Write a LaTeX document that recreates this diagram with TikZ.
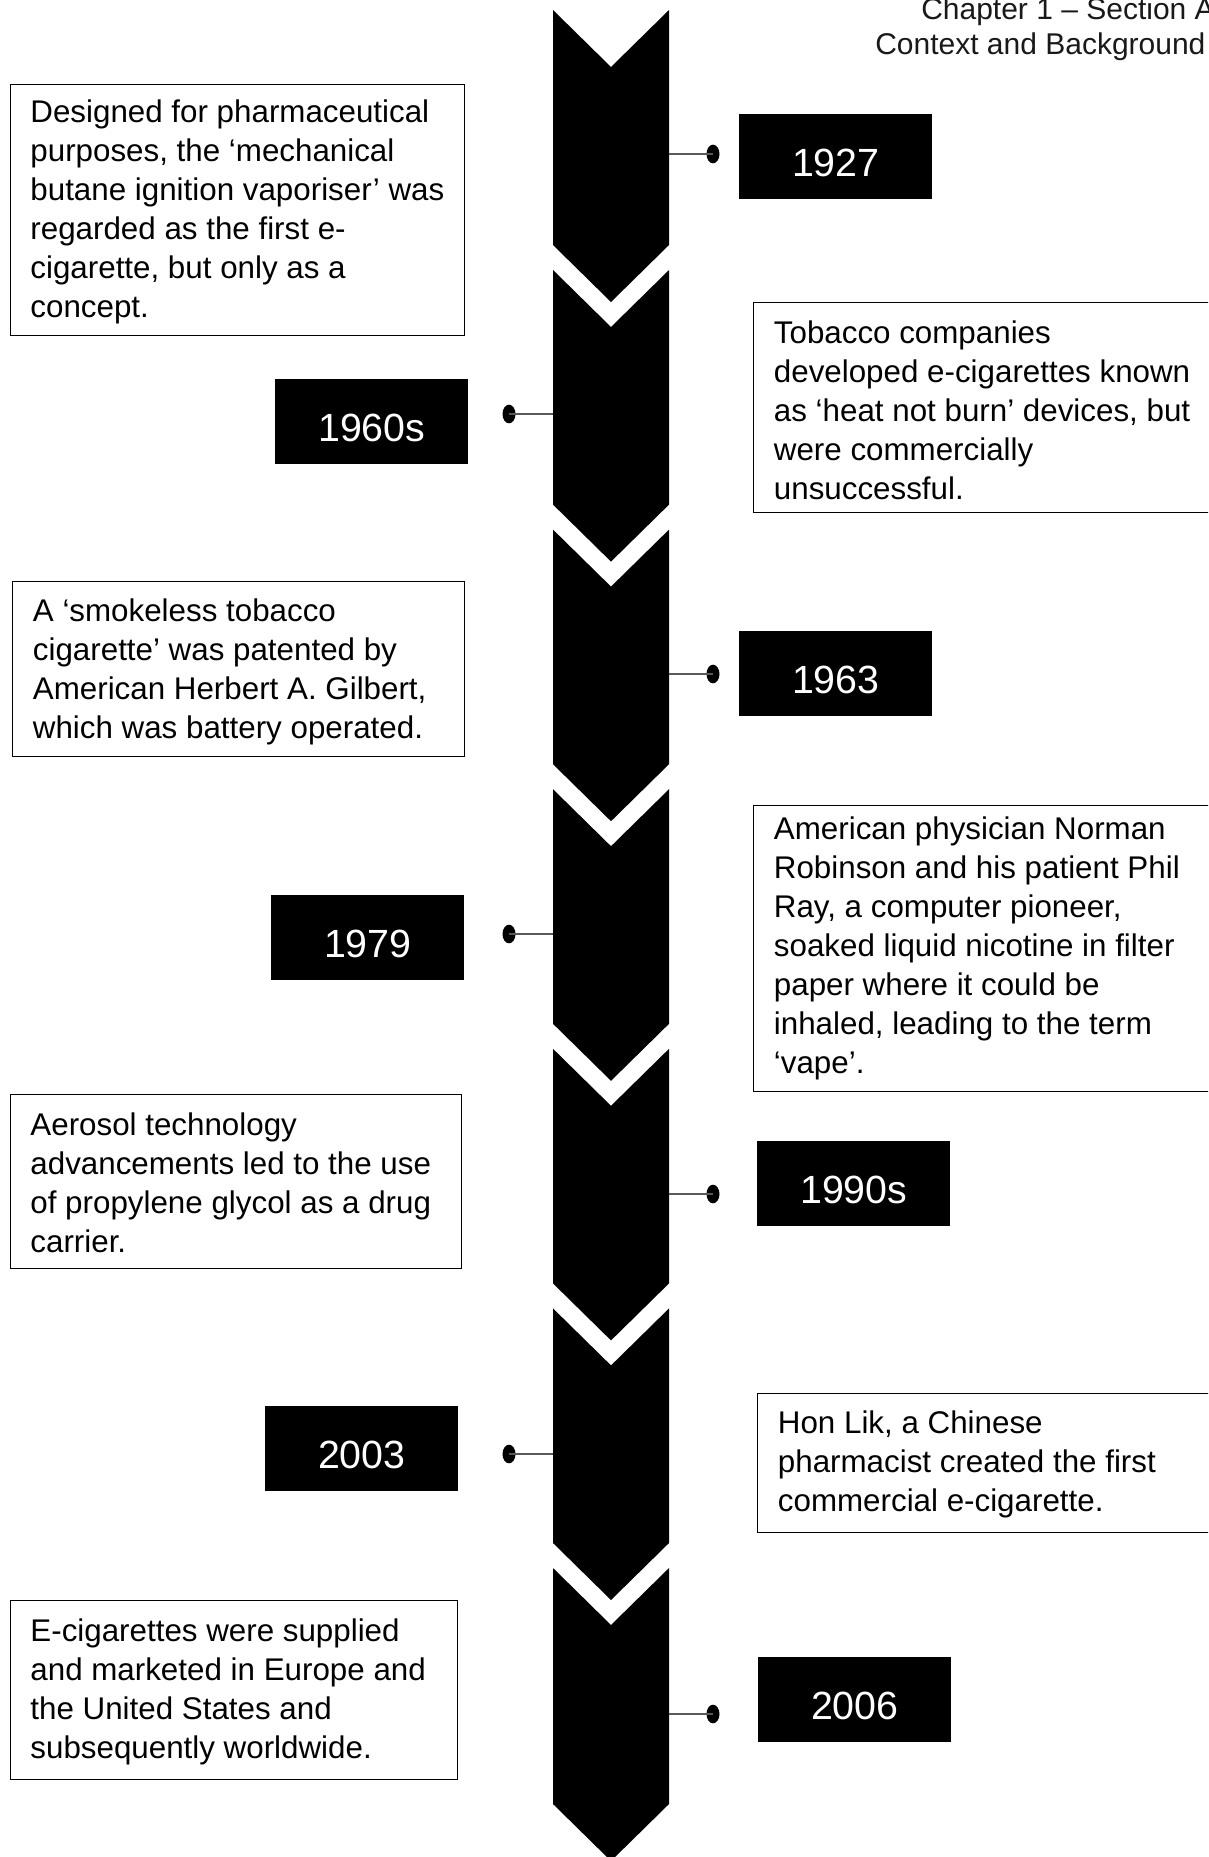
\documentclass[tikz,border=0pt]{standalone}
\usepackage{fontspec}
\setmainfont{Liberation Sans}
\newfontfamily\yearfont{Liberation Sans}
\usetikzlibrary{shapes.geometric}
\begin{document}
\begin{tikzpicture}[x=0.75pt,y=-0.75pt,
  notebox/.style={draw=black, line width=1pt, anchor=north west, inner sep=0pt},
  notetext/.style={anchor=west, align=left, inner sep=0pt,
    font=\fontsize{23.5}{29.25}\selectfont},
  yearbox/.style={fill=black, text=white, anchor=north west,
    minimum width=144.75pt, minimum height=63.75pt, inner sep=0pt,
    text height=30pt, text depth=0pt, font=\yearfont\fontsize{29.5}{35}\selectfont},
  tldot/.style={ellipse, fill=black, minimum width=9.75pt, minimum height=14pt, inner sep=0pt},
  tlline/.style={draw=black!65, line width=1pt},
  chevron/.style={fill=black},
  header/.style={anchor=base west, inner sep=0pt, text=black!90,
    font=\fontsize{22.5}{26}\selectfont}
]
\useasboundingbox (0,0) rectangle (1208,1857);
\clip (0,0) rectangle (1208,1857);

% header
\node[header] (hdr1) at (921,19) {Chapter 1 – Section A};
\node[header] (hdr2) at (875,54.5) {Context and Background};

% chevron column
\foreach \t/\b in {10/245, 270/504.6, 529.6/764.2, 789.2/1023.8,
                   1048.8/1283.4, 1308.4/1543, 1568/1804}
  \fill[chevron] (553,\t) -- (611,{\t+57}) -- (669,\t) -- (669,\b)
        -- (611,{\b+57}) -- (553,\b) -- cycle;

% column edge points for the connectors
\coordinate (e1927) at (669,154);
\coordinate (e1960) at (553,414);
\coordinate (e1963) at (669,674);
\coordinate (e1979) at (553,934);
\coordinate (e1990) at (669,1194);
\coordinate (e2003) at (553,1454);
\coordinate (e2006) at (669,1714);

% dots
\node[tldot] (d1927) at (713,154) {};
\node[tldot] (d1960) at (509,414) {};
\node[tldot] (d1963) at (713,674) {};
\node[tldot] (d1979) at (509,934) {};
\node[tldot] (d1990) at (713,1194) {};
\node[tldot] (d2003) at (509,1454) {};
\node[tldot] (d2006) at (713,1714) {};

\foreach \n in {1927,1960,1963,1979,1990,2003,2006}
  \draw[tlline] (e\n) -- (d\n.center);

% year labels
\node[yearbox] (y1927) at (739,114) {1927};
\node[yearbox] (y1960) at (275,379) {1960s};
\node[yearbox] (y1963) at (739,631) {1963};
\node[yearbox] (y1979) at (271,895) {1979};
\node[yearbox] (y1990) at (757,1141) {1990s};
\node[yearbox] (y2003) at (265,1406) {2003};
\node[yearbox] (y2006) at (758,1657) {2006};

% event description frames
\node[notebox, minimum width=340.9pt, minimum height=188.25pt] (t1927) at (9.5,84) {};
\node[notebox, minimum width=357.75pt, minimum height=157.5pt] (t1960) at (753,302) {};
\node[notebox, minimum width=339pt, minimum height=131.25pt] (t1963) at (12,581) {};
\node[notebox, minimum width=357.75pt, minimum height=214.5pt] (t1979) at (753,805) {};
\node[notebox, minimum width=338.6pt, minimum height=130.5pt] (t1990) at (9.5,1094) {};
\node[notebox, minimum width=354.75pt, minimum height=104.25pt] (t2003) at (757,1393) {};
\node[notebox, minimum width=335.6pt, minimum height=134.25pt] (t2006) at (9.5,1600) {};

% event description texts
\node[notetext] (x1927) at ([xshift=15.5pt,yshift=-1pt]t1927.west)
  {Designed for pharmaceutical\\purposes, the ‘mechanical\\butane ignition vaporiser’ was\\regarded as the first e-\\cigarette, but only as a\\concept.};
\node[notetext] (x1960) at ([xshift=15.5pt,yshift=-2pt]t1960.west)
  {Tobacco companies\\developed e-cigarettes known\\as ‘heat not burn’ devices, but\\were commercially\\unsuccessful.};
\node[notetext] (x1963) at ([xshift=15.5pt,yshift=-2pt]t1963.west)
  {A ‘smokeless tobacco\\cigarette’ was patented by\\American Herbert A. Gilbert,\\which was battery operated.};
\node[notetext] (x1979) at ([xshift=15.5pt,yshift=0pt]t1979.west)
  {American physician Norman\\Robinson and his patient Phil\\Ray, a computer pioneer,\\soaked liquid nicotine in filter\\paper where it could be\\inhaled, leading to the term\\‘vape’.};
\node[notetext] (x1990) at ([xshift=15.5pt,yshift=-1pt]t1990.west)
  {Aerosol technology\\advancements led to the use\\of propylene glycol as a drug\\carrier.};
\node[notetext] (x2003) at ([xshift=15.5pt,yshift=-1pt]t2003.west)
  {Hon Lik, a Chinese\\pharmacist created the first\\commercial e-cigarette.};
\node[notetext] (x2006) at ([xshift=15.5pt,yshift=-1pt]t2006.west)
  {E-cigarettes were supplied\\and marketed in Europe and\\the United States and\\subsequently worldwide.};
\end{tikzpicture}
\end{document}
